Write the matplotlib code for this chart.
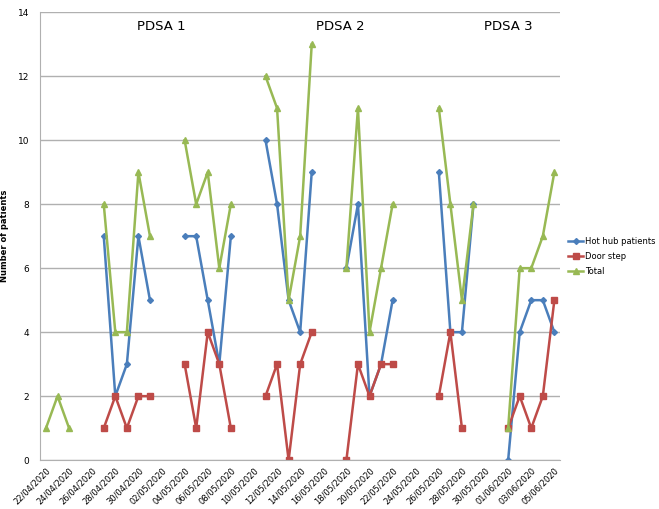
import numpy as np
import pandas as pd
import matplotlib.pyplot as plt

dates = pd.date_range("2020-04-22", "2020-06-05", freq="D")
labels = [d.strftime("%d/%m/%Y") for d in dates]

nan = np.nan
# one value per day, 22/04 .. 05/06 (NaN = no data)
hot_hub = [nan, nan, nan, nan, nan, 7, 2, 3, 7, 5, nan, nan, 7, 7, 5, 3, 7, nan, nan,
           10, 8, 5, 4, 9, nan, nan, 6, 8, 2, 3, 5, nan, nan, nan, 9, 4, 4, 8, nan, nan,
           0, 4, 5, 5, 4]
door_step = [nan, nan, nan, nan, nan, 1, 2, 1, 2, 2, nan, nan, 3, 1, 4, 3, 1, nan, nan,
             2, 3, 0, 3, 4, nan, nan, 0, 3, 2, 3, 3, nan, nan, nan, 2, 4, 1, nan, nan, nan,
             1, 2, 1, 2, 5]
total = [1, 2, 1, nan, nan, 8, 4, 4, 9, 7, nan, nan, 10, 8, 9, 6, 8, nan, nan,
         12, 11, 5, 7, 13, nan, nan, 6, 11, 4, 6, 8, nan, nan, nan, 11, 8, 5, 8, nan, nan,
         1, 6, 6, 7, 9]

phases = ["PDSA 1", "PDSA 2", "PDSA 3"]
phase_x = [10, 25.5, 40]

fig = plt.figure(figsize=(6.59, 5.09), dpi=100)
ax = fig.add_axes([0.061, 0.096, 0.789, 0.88])

x = np.arange(len(dates))
ax.plot(x, hot_hub, color="#4a7ebb", marker="D", markersize=3, lw=1.8, label="Hot hub patients")
ax.plot(x, door_step, color="#be4b48", marker="s", markersize=5, lw=1.8, label="Door step")
ax.plot(x, total, color="#98b954", marker="^", markersize=5, lw=1.8, label="Total")

ax.set_xlim(-0.5, len(dates) - 0.5)
ax.set_ylim(0, 14)
ax.set_yticks(range(0, 15, 2))
ax.yaxis.grid(True, color="#b0b0b0", lw=1)
ax.set_axisbelow(True)
ax.tick_params(axis="y", labelsize=6.5, length=0, pad=8)
ax.set_xticks(x[::2])
ax.set_xticklabels(labels[::2], rotation=45, ha="right", rotation_mode="anchor", fontsize=6)
ax.tick_params(axis="x", length=0, pad=4)
ax.set_ylabel("Number of patients", fontsize=6, fontweight="bold", labelpad=6)

for s in ["top", "right"]:
    ax.spines[s].set_visible(False)
ax.spines["left"].set_color("#b0b0b0")
ax.spines["bottom"].set_color("#b0b0b0")

for name, px in zip(phases, phase_x):
    ax.text(px, 13.55, name, ha="center", va="center", fontsize=9.5)

ax.legend(loc="center left", bbox_to_anchor=(1.0, 0.455), frameon=False, fontsize=6,
          handlelength=1.8, handletextpad=0.2, borderaxespad=0.6, labelspacing=0.75)

fig.savefig("out.png", dpi=100)
